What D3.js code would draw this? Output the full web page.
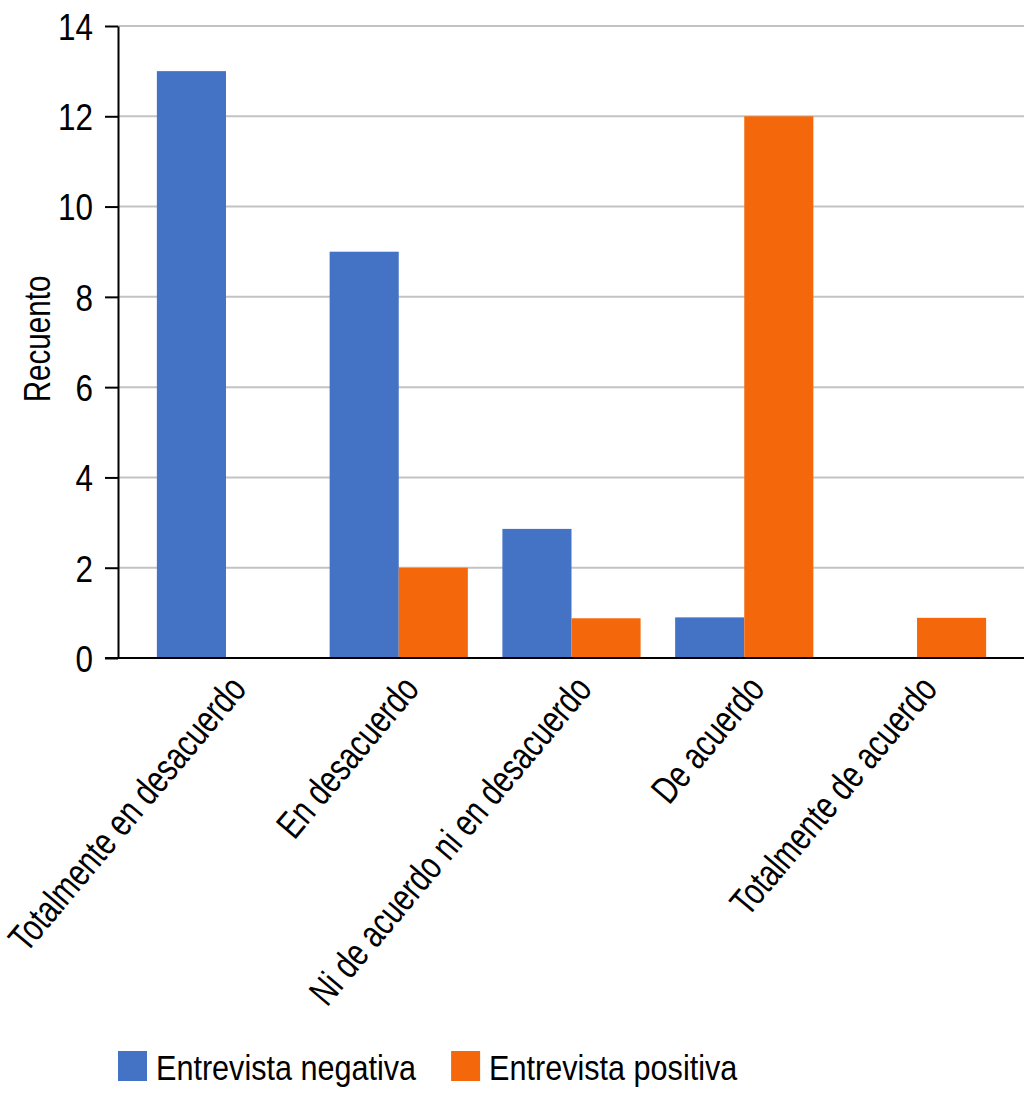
<!DOCTYPE html>
<html>
<head>
<meta charset="utf-8">
<script src="https://cdn.jsdelivr.net/npm/d3@7"></script>
<style>
  html, body { margin: 0; padding: 0; background: #fff; }
  svg { display: block; font-family: "Liberation Sans", Arial, sans-serif; }
</style>
</head>
<body>
<svg id="chart"></svg>
<script>
// categories and series
const categories = [
  "Totalmente en desacuerdo",
  "En desacuerdo",
  "Ni de acuerdo ni en desacuerdo",
  "De acuerdo",
  "Totalmente de acuerdo"
];
const seriesNames = ["Entrevista negativa", "Entrevista positiva"];
const negativa = [13, 9, 2.86, 0.9, 0];
const positiva = [0, 2, 0.88, 12, 0.89];
const yTicks = [0, 2, 4, 6, 8, 10, 12, 14];
const colors = ["#4472c4", "#f4680b"];

const width = 1024, height = 1094;
const marginLeft = 118, marginRight = 0, marginTop = 26, plotBottom = 658;
// the original font is a narrow grotesque, squeeze Liberation Sans sideways
const sxTick = 0.85, sxCat = 0.77, sxTitle = 0.8;

const data = categories.map((c, i) => ({ key: c, values: [negativa[i], positiva[i]] }));

const svg = d3.select("#chart")
  .attr("width", width)
  .attr("height", height)
  .attr("viewBox", [0, 0, width, height]);

const x0 = d3.scaleBand()
  .domain(categories)
  .range([139.6, 1003.4])
  .paddingInner(0.2)
  .paddingOuter(0.1);

const x1 = d3.scaleBand()
  .domain(seriesNames)
  .range([0, x0.bandwidth()]);

const y = d3.scaleLinear()
  .domain([0, 14])
  .range([plotBottom, marginTop]);

// grid lines
svg.append("g")
    .attr("class", "grid")
  .selectAll("line")
  .data(yTicks.filter(d => d > 0))
  .join("line")
    .attr("x1", marginLeft)
    .attr("x2", width - marginRight)
    .attr("y1", d => y(d))
    .attr("y2", d => y(d))
    .attr("stroke", "#c3c3c3")
    .attr("stroke-width", 2);

// bars
svg.append("g")
  .selectAll("g")
  .data(data)
  .join("g")
    .attr("transform", d => `translate(${x0(d.key)},0)`)
  .selectAll("rect")
  .data(d => d.values.map((v, j) => ({ name: seriesNames[j], value: v, j })))
  .join("rect")
    .attr("x", d => x1(d.name))
    .attr("width", x1.bandwidth())
    .attr("y", d => y(d.value))
    .attr("height", d => y(0) - y(d.value))
    .attr("fill", d => colors[d.j]);

// y axis
svg.append("g")
    .attr("transform", `translate(${marginLeft},0)`)
    .call(d3.axisLeft(y).tickValues(yTicks).tickSize(13).tickSizeOuter(0))
    .call(g => g.select(".domain").attr("stroke", "#000").attr("stroke-width", 2))
    .call(g => g.selectAll(".tick line").attr("stroke", "#000").attr("stroke-width", 2))
    .call(g => g.selectAll(".tick text")
        .attr("x", -25 / sxTick)
        .attr("dy", "0.36em")
        .attr("transform", `scale(${sxTick},1)`)
        .attr("fill", "#000")
        .attr("font-size", 37)
        .attr("font-family", null));

// x axis
svg.append("g")
    .attr("transform", `translate(0,${plotBottom})`)
    .call(d3.axisBottom(x0).tickSize(0))
    .call(g => g.select(".domain").remove())
    .call(g => g.selectAll(".tick text")
        .attr("x", 0)
        .attr("y", 0)
        .attr("dy", 0)
        .attr("text-anchor", "end")
        .attr("transform", `translate(22,32) rotate(-50) scale(${sxCat},1)`)
        .attr("fill", "#000")
        .attr("font-size", 38)
        .attr("font-family", null));

svg.append("line")
    .attr("x1", 105)
    .attr("x2", width)
    .attr("y1", y(0))
    .attr("y2", y(0))
    .attr("stroke", "#000")
    .attr("stroke-width", 2);

// y label
svg.append("text")
    .attr("transform", `translate(50,339) rotate(-90) scale(${sxTitle},1)`)
    .attr("text-anchor", "middle")
    .attr("font-size", 37)
    .text("Recuento");

// legend
const legend = svg.append("g").attr("transform", "translate(118,1051)");
let lx = 0;
seriesNames.forEach((name, j) => {
  const item = legend.append("g").attr("transform", `translate(${lx},0)`);
  item.append("rect")
      .attr("width", 29)
      .attr("height", 30)
      .attr("fill", colors[j]);
  const t = item.append("text")
      .attr("transform", `translate(38,29) scale(0.85,1)`)
      .attr("font-size", 36)
      .text(name);
  lx += 38 + t.node().getComputedTextLength() * 0.85 + 35;
});
</script>
</body>
</html>
